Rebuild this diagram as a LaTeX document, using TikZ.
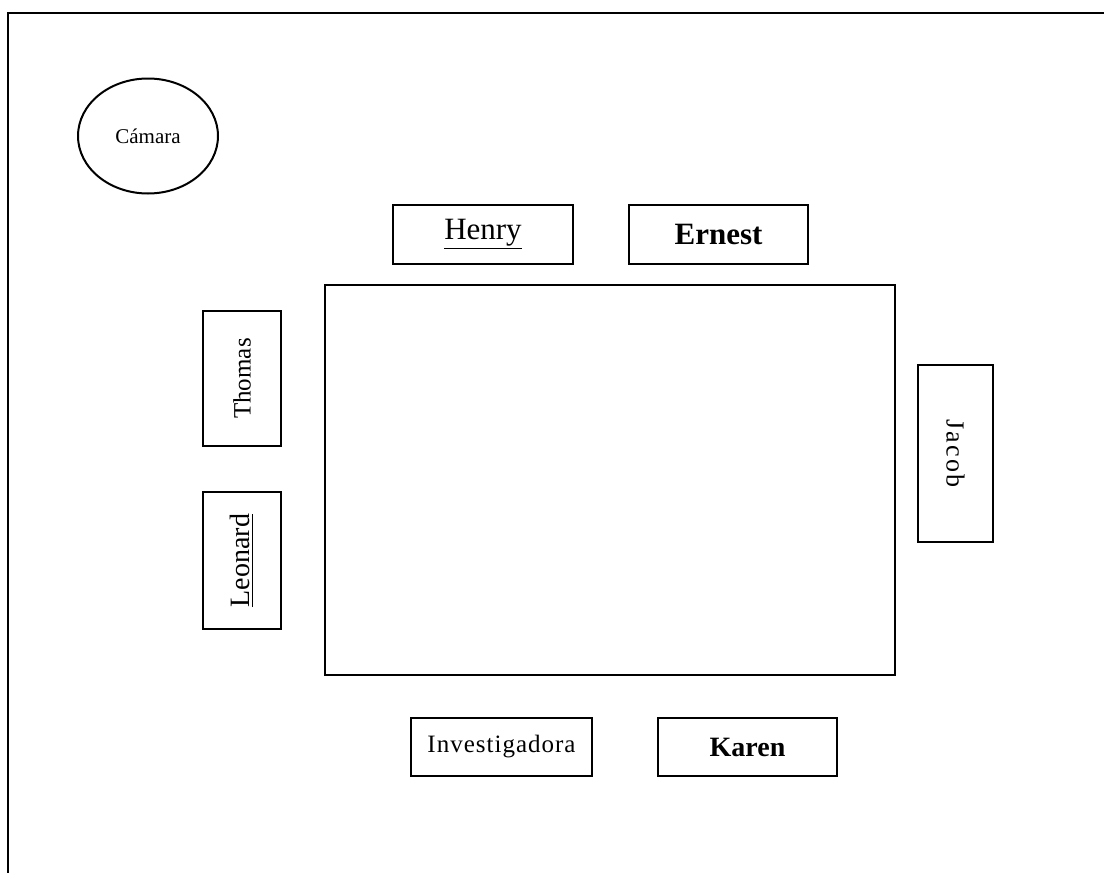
\documentclass[tikz,border=0pt]{standalone}
\usepackage{fontspec}
\setmainfont{Liberation Serif}
\usetikzlibrary{shapes.geometric}
\newfontfamily\spacedfont[LetterSpace=8]{Liberation Serif}
\newfontfamily\lessspacedfont[LetterSpace=4]{Liberation Serif}
\tikzset{
  seat/.style={draw, line width=1pt, rectangle, inner sep=0pt, align=center},
  tablebox/.style={draw, line width=1pt, rectangle, inner sep=0pt},
  cam/.style={draw, line width=1pt, ellipse, inner sep=0pt},
  frame/.style={line width=1.1pt}
}
\begin{document}
\begin{tikzpicture}[x=0.5pt,y=-0.5pt]
\useasboundingbox (0,0) rectangle (1104,873);
\coordinate (fbl) at (8,873);
\coordinate (ftl) at (8,13);
\coordinate (ftr) at (1104,13);
\draw[frame] (fbl) -- (ftl) -- (ftr);
\node[cam, minimum width=70pt, minimum height=57.5pt] (camara) at (148,136) {\fontsize{10.5}{12}\selectfont Cámara};
\node[seat, minimum width=90pt, minimum height=29.5pt] (henry) at (483,234.5) {\fontsize{15.5}{18}\selectfont \underline{Henry}};
\node[seat, minimum width=89.5pt, minimum height=29.5pt] (ernest) at (718.5,234.5) {\fontsize{15.5}{19}\selectfont\bfseries Ernest};
\node[tablebox, minimum width=285pt, minimum height=195pt] (mesa) at (610,480) {};
\node[seat, rotate=90, minimum width=67.5pt, minimum height=39pt] (thomas) at (242,378.5) {\fontsize{12.5}{15}\selectfont Thomas};
\node[seat, rotate=90, minimum width=68.5pt, minimum height=39pt] (leonard) at (242,560.5) {\fontsize{14}{17}\selectfont \underline{Leonard}};
\node[seat, rotate=-90, minimum width=88.5pt, minimum height=37.5pt] (jacob) at (955.5,453.5) {\spacedfont\fontsize{13}{16}\selectfont Jacob};
\node[seat, minimum width=90.5pt, minimum height=29pt] (investigadora) at (501.5,747) {\lessspacedfont\fontsize{12.5}{15}\selectfont Investigadora};
\node[seat, minimum width=89.5pt, minimum height=29pt] (karen) at (747.5,747) {\fontsize{14}{17}\selectfont\bfseries Karen};
\end{tikzpicture}
\end{document}
